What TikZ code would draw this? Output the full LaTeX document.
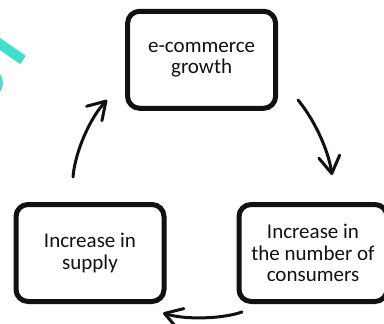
\documentclass[tikz,border=0pt]{standalone}
\usepackage{fontspec}
\setmainfont{Carlito}
\usetikzlibrary{arrows.meta}
\definecolor{logocyan}{HTML}{3FE0D0}
\definecolor{inkblack}{HTML}{111111}
\tikzset{
  box/.style={draw=inkblack, line width=5pt, rounded corners=12pt,
    minimum width=148pt, minimum height=97pt, align=center, inner sep=0pt,
    text=inkblack, font=\fontsize{21}{21.7}\selectfont},
  cyclearrow/.style={draw=inkblack, line width=3pt, line cap=round, line join=round,
    -{Straight Barb[length=17pt,width=21pt,line cap=round,line join=round]}}
}
\begin{document}
\begin{tikzpicture}[x=1pt,y=-1pt]
\useasboundingbox (0,0) rectangle (384,324);
\clip (0,0) rectangle (384,324);
\fill[white] (0,0) rectangle (384,324);
% cyan logo fragment
\draw[logocyan, line width=10pt] (-10,37) -- (23,60);
\draw[logocyan, line width=6pt] (-12,83) circle (12);
% boxes
\node[box] (growth) at (201.6,59.8) {e-commerce\\growth};
\node[box] (supply) at (90,253) {Increase in\\supply};
\node[box] (consumers) at (313,253) {Increase in\\the number of\\consumers};
% arrow end points
\coordinate (a1s) at (298,100);
\coordinate (a1e) at (332,175);
\coordinate (a2s) at (242,312);
\coordinate (a2e) at (163,313);
\coordinate (a3s) at (73,177);
\coordinate (a3e) at (107,100);
\draw[cyclearrow] (a1s) .. controls (313,118) and (328,148) .. (a1e);
\draw[cyclearrow] (a2s) .. controls (222,319) and (185,320) .. (a2e);
\draw[cyclearrow] (a3s) .. controls (75,152) and (90,118) .. (a3e);
\end{tikzpicture}
\end{document}
